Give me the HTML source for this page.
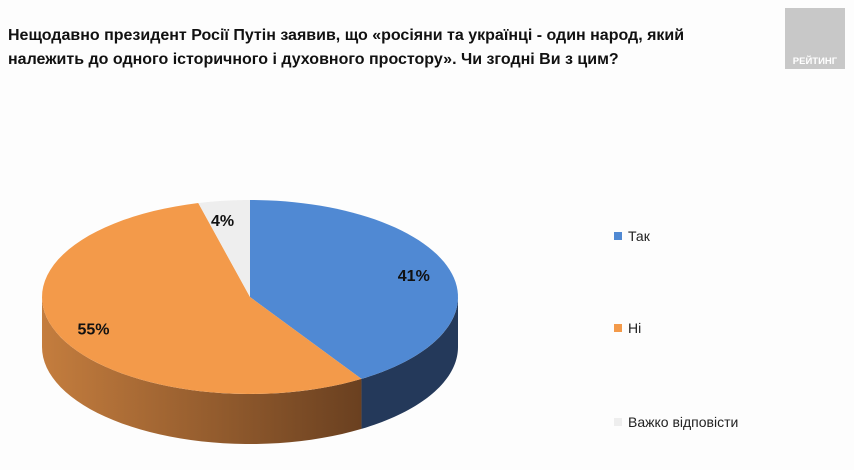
<!DOCTYPE html>
<html><head><meta charset="utf-8"><style>
body{margin:0;width:854px;height:470px;background:#fdfdfd;font-family:"Liberation Sans",sans-serif;overflow:hidden;position:relative}
#title{position:absolute;left:8px;top:24px;font-weight:bold;font-size:16px;line-height:24px;color:#111}
#logo{position:absolute;left:785px;top:8px;width:60px;height:61px;background:#c8c8c8;color:#fff;font-weight:bold;font-size:9.5px;text-align:center;box-sizing:border-box;padding-top:48px}
</style></head><body>
<div id="title">Нещодавно президент Росії Путін заявив, що «росіяни та українці - один народ, який<br>належить до одного історичного і духовного простору». Чи згодні Ви з цим?</div>
<div id="logo">РЕЙТИНГ</div>
<svg id="chart" width="854" height="470" style="position:absolute;left:0;top:0">
<defs>
<linearGradient id="og" x1="0" x2="1" y1="0" y2="0"><stop offset="0" stop-color="#c47d3e"/><stop offset="1" stop-color="#6a4020"/></linearGradient>
</defs>
</svg>
<script>
const categories=["Так","Ні","Важко відповісти"];
const values=[41,55,4];
const labels=["41%","55%","4%"];
const colors=["#5089d3","#f39a4a","#eeeeee"];
const sideColors=["#24395a","url(#og)","#999"];
const cx=250,cy=297,rx=208,ry=97,depth=50;
const svg=document.getElementById('chart');
const NS='http://www.w3.org/2000/svg';
function pt(a,dy){return [cx+rx*Math.sin(a),cy-ry*Math.cos(a)+(dy||0)];}
const total=values.reduce((a,b)=>a+b,0);
let angles=[0];values.forEach(v=>angles.push(angles[angles.length-1]+v/total*2*Math.PI));
// sides
for(let i=0;i<values.length;i++){
 let a1=Math.max(angles[i],Math.PI/2),a2=Math.min(angles[i+1],3*Math.PI/2);
 if(a2<=a1)continue;
 let top=[],bot=[];
 for(let k=0;k<=40;k++){let a=a1+(a2-a1)*k/40;top.push(pt(a));bot.push(pt(a,depth));}
 let d='M'+top.map(p=>p.join(',')).join('L')+'L'+bot.reverse().map(p=>p.join(',')).join('L')+'Z';
 const p=document.createElementNS(NS,'path');p.setAttribute('d',d);p.setAttribute('fill',sideColors[i]);
 
 
 svg.appendChild(p);
}
// tops
for(let i=0;i<values.length;i++){
 let pts=[];for(let k=0;k<=60;k++){let a=angles[i]+(angles[i+1]-angles[i])*k/60;pts.push(pt(a));}
 let d='M'+cx+','+cy+'L'+pts.map(p=>p.join(',')).join('L')+'Z';
 const p=document.createElementNS(NS,'path');p.setAttribute('d',d);p.setAttribute('fill',colors[i]);
 
 
 svg.appendChild(p);
 let mid=(angles[i]+angles[i+1])/2;
 let f=i==2?0.8:0.82;
 let lp=[cx+rx*f*Math.sin(mid),cy-ry*f*Math.cos(mid)+6];
 if(i==2){lp=[cx+rx*0.9*Math.sin(mid)-4,cy-ry*0.8*Math.cos(mid)+6];}
 const t=document.createElementNS(NS,'text');t.setAttribute('x',lp[0]);t.setAttribute('y',lp[1]);
 t.setAttribute('text-anchor','middle');t.setAttribute('font-weight','bold');t.setAttribute('font-size','16');
 t.setAttribute('fill','#111');t.textContent=labels[i];
 
 
 svg.appendChild(t);
}
// legend
const ly=[236,328,422];
for(let i=0;i<categories.length;i++){
 const r=document.createElementNS(NS,'rect');r.setAttribute('x',614);r.setAttribute('y',ly[i]-4);r.setAttribute('width',8);r.setAttribute('height',8);r.setAttribute('fill',colors[i]);
 
 
 svg.appendChild(r);
 const t=document.createElementNS(NS,'text');t.setAttribute('x',628);t.setAttribute('y',ly[i]+5);t.setAttribute('font-size','14');t.setAttribute('fill','#222');t.textContent=categories[i];
 
 
 svg.appendChild(t);
}
</script>
</body></html>
